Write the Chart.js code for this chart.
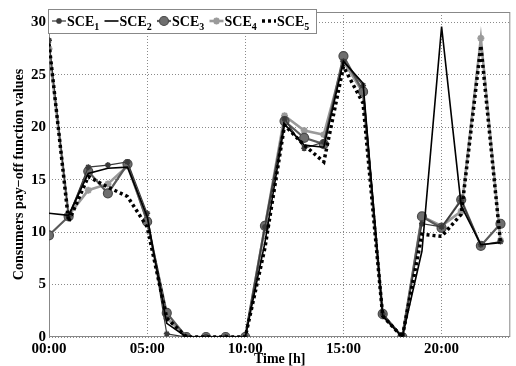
<!DOCTYPE html>
<html>
<head>
<meta charset="utf-8">
<script src="https://cdn.jsdelivr.net/npm/chart.js@4"></script>
<style>
  html, body { margin: 0; padding: 0; background: #fff; }
  #wrap { width: 516px; height: 366px; }
</style>
</head>
<body>
<div id="wrap"><canvas id="chart"></canvas></div>
<script>
const hours = [0, 1, 2, 3, 4, 5, 6, 7, 8, 9, 10, 11, 12, 13, 14, 15, 16, 17, 18, 19, 20, 21, 22, 23];
const sce1 = [28.3, 11.5, 16.2, 16.4, 16.7, 11.8, 0.3, 0, 0, 0, 0, 10.5, 20.8, 18.0, 18.6, 26.3, 24.0, 2.2, 0, 10.8, 10.5, 13.0, 8.8, 9.1];
const sce2 = [11.8, 11.6, 15.6, 16.1, 16.2, 11.5, 1.3, 0, 0, 0, 0, 9.0, 20.3, 18.3, 18.1, 26.3, 24.2, 2.0, 0, 8.2, 29.6, 12.5, 8.8, 9.0];
const sce3 = [9.7, 11.5, 15.8, 13.7, 16.5, 11.0, 2.3, 0, 0, 0, 0, 10.6, 20.6, 19.0, 18.4, 26.8, 23.4, 2.2, 0, 11.5, 10.4, 13.1, 8.7, 10.8];
const sce4 = [27.5, 11.6, 14.0, 14.6, 16.3, 11.2, 1.8, 0, 0, 0, 0, 10.5, 21.1, 19.7, 19.3, 26.3, 23.3, 2.0, 0, 11.5, 10.6, 12.0, 28.5, 9.2];
const sce5 = [28.0, 11.0, 15.3, 14.3, 13.4, 10.5, 1.8, 0, 0, 0, 0, 8.5, 20.2, 18.3, 16.7, 25.8, 22.3, 2.0, 0, 9.8, 9.6, 11.7, 27.8, 9.0];
const yTicks = [0, 5, 10, 15, 20, 25, 30];
const xTicks = [0, 5, 10, 15, 20];

const serif = '"Liberation Serif", "Times New Roman", serif';

function pts(values) {
  return values.map((v, i) => ({ x: hours[i], y: v }));
}

function drawMarker(ctx, ds, x, y) {
  ctx.save();
  ctx.fillStyle = ds.pointBackgroundColor;
  ctx.strokeStyle = ds.pointBorderColor;
  ctx.lineWidth = ds.pointBorderWidth;
  ctx.beginPath();
  if (ds.pointStyle === 'circle') {
    ctx.arc(x, y, ds.pointRadius, 0, Math.PI * 2);
    ctx.fill();
    ctx.stroke();
  } else {
    const r = ds.pointRadius;
    for (let k = 0; k < 4; k++) {
      const a = k * Math.PI / 4;
      ctx.moveTo(x - Math.cos(a) * r, y - Math.sin(a) * r);
      ctx.lineTo(x + Math.cos(a) * r, y + Math.sin(a) * r);
    }
    ctx.stroke();
  }
  ctx.restore();
}

// legend drawn inside the plot, box in the top-left corner
const legendBox = {
  id: 'legendBox',
  afterDraw(chart) {
    const ctx = chart.ctx;
    const area = chart.chartArea;
    const x0 = area.left - 1, y0 = 9, w = 268, h = 24;
    ctx.save();
    ctx.fillStyle = '#fff';
    ctx.fillRect(x0, y0, w, h);
    ctx.strokeStyle = '#888';
    ctx.lineWidth = 1;
    ctx.strokeRect(x0 + 0.5, y0 + 0.5, w, h);

    const cy = y0 + 12;
    chart.data.datasets.forEach((ds, i) => {
      const x = x0 + 4 + i * 52.5;
      const sw = 14;
      ctx.save();
      ctx.strokeStyle = ds.borderColor;
      ctx.lineWidth = ds.borderWidth;
      ctx.setLineDash(ds.borderDash || []);
      ctx.beginPath();
      ctx.moveTo(x, cy);
      ctx.lineTo(x + sw, cy);
      ctx.stroke();
      ctx.restore();
      if (ds.pointRadius > 0) drawMarker(ctx, ds, x + sw / 2, cy);
      let tx = x + sw + 1;
      ctx.fillStyle = '#000';
      ctx.textBaseline = 'alphabetic';
      ctx.font = 'bold 14px ' + serif;
      ctx.fillText('SCE', tx, cy + 5);
      tx += ctx.measureText('SCE').width;
      ctx.font = 'bold 10px ' + serif;
      ctx.fillText(String(i + 1), tx, cy + 9);
    });
    ctx.restore();
  }
};

function series(label, data, opts) {
  return Object.assign({
    label: label,
    data: pts(data),
    fill: false,
    tension: 0,
    pointHoverRadius: 0
  }, opts);
}

new Chart(document.getElementById('chart'), {
  type: 'line',
  data: {
    datasets: [
      series('SCE1', sce1, {
        borderColor: '#3a3a3a', borderWidth: 1.2, pointStyle: 'star', pointRadius: 3,
        pointBackgroundColor: '#3a3a3a', pointBorderColor: '#3a3a3a', pointBorderWidth: 1.5, order: 3
      }),
      series('SCE2', sce2, {
        borderColor: '#000', borderWidth: 1.6, pointRadius: 0, order: 2
      }),
      series('SCE3', sce3, {
        borderColor: '#5a5a5a', borderWidth: 2.2, pointStyle: 'circle', pointRadius: 4.5,
        pointBackgroundColor: '#6e6e6e', pointBorderColor: '#4a4a4a', pointBorderWidth: 1.2, order: 4
      }),
      series('SCE4', sce4, {
        borderColor: '#9a9a9a', borderWidth: 2.6, pointStyle: 'star', pointRadius: 3.5,
        pointBackgroundColor: '#9a9a9a', pointBorderColor: '#9a9a9a', pointBorderWidth: 2, order: 5
      }),
      series('SCE5', sce5, {
        borderColor: '#000', borderWidth: 3.5, borderDash: [3, 3], pointRadius: 0, order: 1
      })
    ]
  },
  options: {
    responsive: true,
    maintainAspectRatio: false,
    animation: false,
    layout: { padding: { top: 8, right: 2, left: 0, bottom: 0 } },
    plugins: {
      legend: { display: false },
      tooltip: { enabled: false }
    },
    scales: {
      x: {
        type: 'linear',
        min: 0,
        max: 23.5,
        afterFit(scale) { scale.height = 29; },
        afterBuildTicks(scale) { scale.ticks = xTicks.map(v => ({ value: v })); },
        grid: {
          color: '#8a8a8a',
          lineWidth: 1,
          drawTicks: false
        },
        border: { display: false, dash: [1, 2] },
        ticks: {
          padding: 3,
          color: '#000',
          maxRotation: 0,
          font: { family: serif, size: 15, weight: 'bold' },
          callback: v => String(v).padStart(2, '0') + ':00'
        },
        title: {
          display: true,
          text: 'Time [h]',
          color: '#000',
          padding: { top: 0, bottom: -2 },
          font: { family: serif, size: 14, weight: 'bold' }
        }
      },
      y: {
        min: 0,
        max: 31,
        afterFit(scale) { scale.width = 49; },
        afterBuildTicks(scale) { scale.ticks = yTicks.map(v => ({ value: v })); },
        grid: {
          color: '#8a8a8a',
          lineWidth: 1,
          drawTicks: false
        },
        border: { display: false, dash: [1, 2] },
        ticks: {
          padding: 3,
          color: '#000',
          font: { family: serif, size: 15, weight: 'bold' }
        },
        title: {
          display: true,
          text: 'Consumers pay\u2212off function values',
          color: '#000',
          padding: { top: 11, bottom: 0 },
          font: { family: serif, size: 14, weight: 'bold' }
        }
      }
    }
  },
  plugins: [{
    // solid box around the plot
    id: 'plotBox',
    beforeDatasetsDraw(chart) {
      const { ctx, chartArea: a } = chart;
      ctx.save();
      ctx.strokeStyle = '#888';
      ctx.lineWidth = 1;
      ctx.strokeRect(a.left + 0.5, a.top + 0.5, a.right - a.left - 1, a.bottom - a.top - 1);
      ctx.restore();
    }
  }, legendBox]
});
</script>
</body>
</html>
